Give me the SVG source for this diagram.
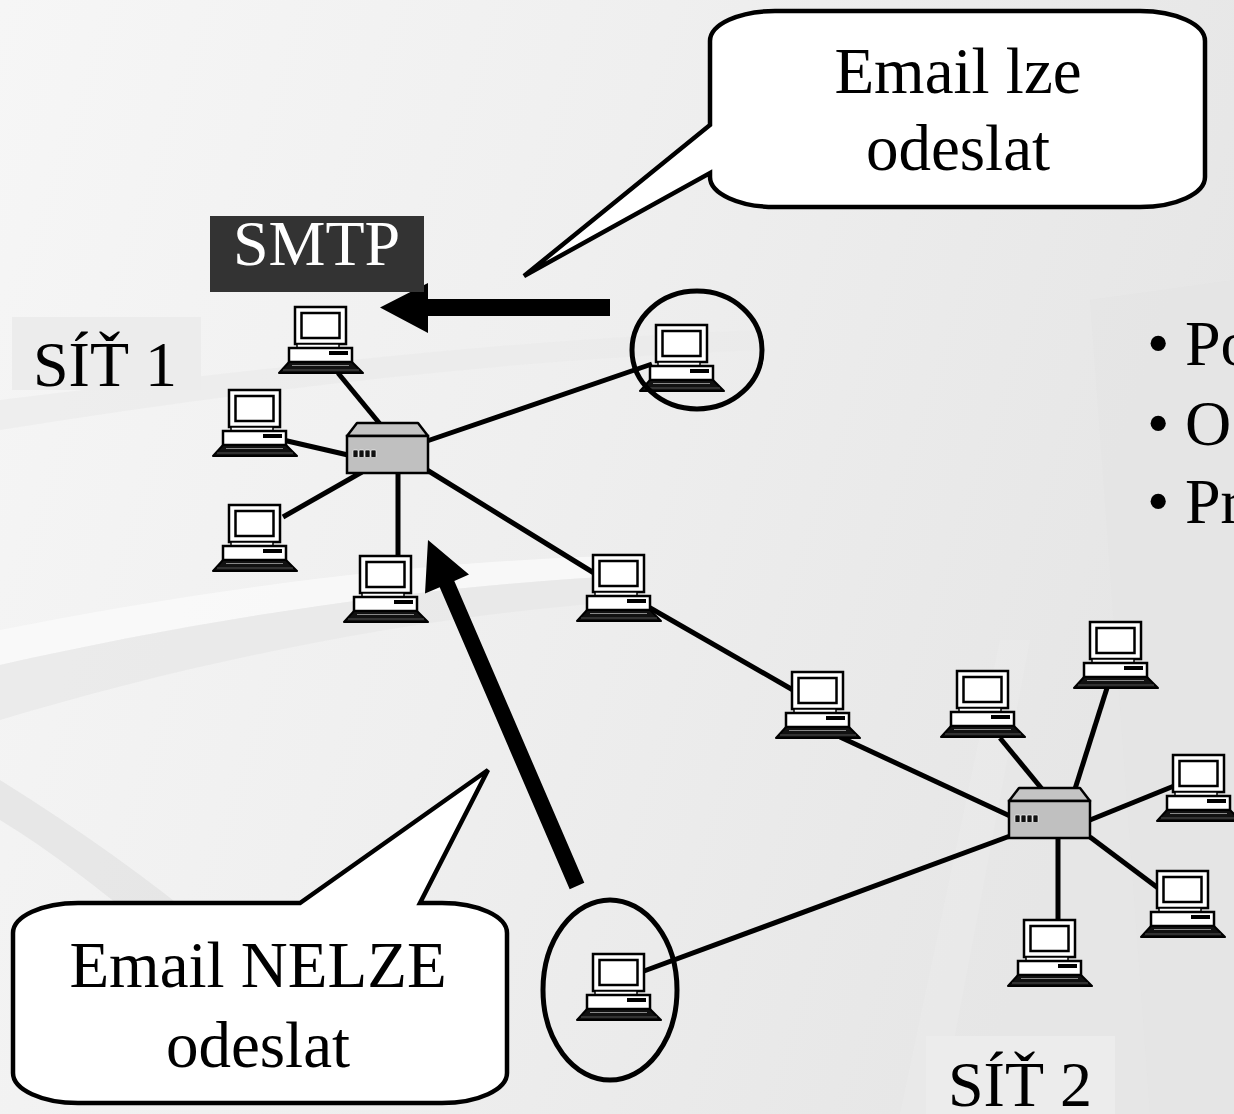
<svg xmlns="http://www.w3.org/2000/svg" xmlns:xlink="http://www.w3.org/1999/xlink" width="1234" height="1114" viewBox="0 0 1234 1114">
<defs>
<linearGradient id="bg" x1="0" y1="0" x2="1" y2="0.3">
<stop offset="0" stop-color="#f6f6f6"/>
<stop offset="0.5" stop-color="#efefef"/>
<stop offset="1" stop-color="#e6e6e6"/>
</linearGradient>
<symbol id="pc" overflow="visible">
<rect x="16" y="0" width="51" height="37" fill="#fff" stroke="#000" stroke-width="2.5"/>
<rect x="22.5" y="6" width="38" height="25" fill="#fff" stroke="#000" stroke-width="2.5"/>
<rect x="18" y="37" width="42" height="4" fill="#fff" stroke="#000" stroke-width="1.5"/>
<rect x="10" y="41" width="63" height="14" fill="#fff" stroke="#000" stroke-width="2.5"/>
<rect x="50" y="44" width="19" height="4" fill="#000"/>
<polygon points="10,55 73,55 84,66 0,66" fill="#111" stroke="#000" stroke-width="2" stroke-linejoin="round"/>
<line x1="13" y1="58.5" x2="70" y2="58.5" stroke="#888" stroke-width="1"/>
<line x1="4" y1="63" x2="80" y2="63" stroke="#666" stroke-width="0.8"/>
</symbol>
<symbol id="hub" overflow="visible">
<polygon points="10,0 71,0 81,13 0,13" fill="#c4c4c4" stroke="#000" stroke-width="2.5" stroke-linejoin="round"/>
<rect x="0" y="13" width="81" height="37" fill="#c0c0c0" stroke="#000" stroke-width="2.5"/>
<g fill="#111" stroke="#fff" stroke-width="0.6">
<rect x="6" y="27" width="5" height="7.5" rx="1"/>
<rect x="12" y="27" width="5" height="7.5" rx="1"/>
<rect x="18" y="27" width="5" height="7.5" rx="1"/>
<rect x="24" y="27" width="5" height="7.5" rx="1"/>
</g>
</symbol>
</defs>
<style>
.t{font-family:"Liberation Serif","Times New Roman",serif;font-size:65px;fill:#000}
.c{text-anchor:middle}
.w{fill:#fff}
.ln{stroke:#000;stroke-width:5;fill:none;stroke-linecap:butt}
.callout{fill:#fff;stroke:#000;stroke-width:4.5;stroke-linejoin:miter}
.ring{fill:none;stroke:#000;stroke-width:5}
</style>

<g id="background">
<rect width="1234" height="1114" fill="url(#bg)"/>
<path d="M0,400 C250,370 500,340 760,330 L760,350 C500,360 250,390 0,430 Z" fill="#e9e9e9" opacity="0.6"/>
<path d="M0,630 C200,590 420,560 640,555 L640,575 C420,585 200,620 0,665 Z" fill="#fafafa" opacity="0.8"/>
<path d="M0,665 C200,620 420,585 640,575 L640,600 C420,615 200,660 0,720 Z" fill="#e7e7e7" opacity="0.7"/>
<path d="M0,780 C80,830 150,880 210,930 L150,930 C100,890 50,850 0,820 Z" fill="#e4e4e4" opacity="0.8"/>
<path d="M900,1114 L1000,640 L1030,640 L940,1114 Z" fill="#ebebeb" opacity="0.6"/>
<path d="M1090,300 L1234,280 L1234,1114 L1150,1114 Z" fill="#e3e3e3" opacity="0.5"/>
</g>

<g id="label-box-1"><rect x="12" y="317" width="189" height="73" fill="#ececec"/></g>
<g id="label-box-2"><rect x="926" y="1036" width="189" height="78" fill="#ececec"/></g>

<g id="connectors">
<line class="ln" x1="338" y1="373" x2="380" y2="424"/>
<line class="ln" x1="283" y1="440" x2="348" y2="455"/>
<line class="ln" x1="283" y1="517" x2="362" y2="472"/>
<line class="ln" x1="398" y1="472" x2="398" y2="557"/>
<line class="ln" x1="427" y1="441" x2="652" y2="364"/>
<line class="ln" x1="427" y1="470" x2="594" y2="573"/>
<line class="ln" x1="645" y1="605" x2="793" y2="690"/>
<line class="ln" x1="840" y1="737" x2="1010" y2="816"/>
<line class="ln" x1="1000" y1="738" x2="1042" y2="789"/>
<line class="ln" x1="1107" y1="688" x2="1075" y2="789"/>
<line class="ln" x1="1090" y1="820" x2="1174" y2="786"/>
<line class="ln" x1="1090" y1="837" x2="1158" y2="888"/>
<line class="ln" x1="1058" y1="837" x2="1058" y2="921"/>
<line class="ln" x1="1010" y1="836" x2="644" y2="971"/>
</g>

<g id="hub1"><use xlink:href="#hub" href="#hub" x="347" y="423"/></g>
<g id="hub2"><use xlink:href="#hub" href="#hub" x="1009" y="788"/></g>

<g id="pc-s1-top"><use xlink:href="#pc" href="#pc" x="279" y="307"/></g>
<g id="pc-s1-left"><use xlink:href="#pc" href="#pc" x="213" y="390"/></g>
<g id="pc-s1-lowleft"><use xlink:href="#pc" href="#pc" x="213" y="505"/></g>
<g id="pc-s1-bottom"><use xlink:href="#pc" href="#pc" x="344" y="556"/></g>
<g id="pc-circled-top"><use xlink:href="#pc" href="#pc" x="640" y="325"/></g>
<g id="pc-mid1"><use xlink:href="#pc" href="#pc" x="577" y="555"/></g>
<g id="pc-mid2"><use xlink:href="#pc" href="#pc" x="776" y="672"/></g>
<g id="pc-s2-a"><use xlink:href="#pc" href="#pc" x="941" y="671"/></g>
<g id="pc-s2-b"><use xlink:href="#pc" href="#pc" x="1074" y="622"/></g>
<g id="pc-s2-c"><use xlink:href="#pc" href="#pc" x="1157" y="755"/></g>
<g id="pc-s2-d"><use xlink:href="#pc" href="#pc" x="1141" y="871"/></g>
<g id="pc-s2-e"><use xlink:href="#pc" href="#pc" x="1008" y="920"/></g>
<g id="pc-circled-bottom"><use xlink:href="#pc" href="#pc" x="577" y="954"/></g>

<g id="ring-top"><ellipse class="ring" cx="697" cy="350" rx="65" ry="59"/></g>
<g id="ring-bottom"><ellipse class="ring" cx="610" cy="990" rx="67" ry="90"/></g>

<g id="arrow-smtp"><polygon points="380,307.5 428,283 428,299 610,299 610,316 428,316 428,333" fill="#000"/></g>
<g id="arrow-up"><polygon points="428,540 469,574.6 454.3,580.9 584.3,882.8 569.7,889.2 439.7,587.3 425,593.6" fill="#000"/></g>

<g id="smtp">
<rect x="210" y="216" width="214" height="76" fill="#333"/>
<text class="t w" x="233" y="265" style="font-size:64px">SMTP</text>
</g>

<g id="label-sit1"><text class="t" x="33" y="386" style="font-size:64px">SÍŤ 1</text></g>
<g id="label-sit2"><text class="t" x="948" y="1106" style="font-size:64px">SÍŤ 2</text></g>

<g id="bullets">
<text class="t" y="365" style="font-size:64px"><tspan x="1147">•</tspan><tspan x="1185">Po</tspan></text>
<text class="t" y="445" style="font-size:64px"><tspan x="1147">•</tspan><tspan x="1185">O</tspan></text>
<text class="t" y="523" style="font-size:64px"><tspan x="1147">•</tspan><tspan x="1185">Pr</tspan></text>
</g>

<g id="callout-top">
<path class="callout" d="M775,11 L1140,11 A65,30 0 0 1 1205,41 L1205,177 A65,30 0 0 1 1140,207 L775,207 A65,30 0 0 1 710,177 L710,173 L524,276 L710,125 L710,41 A65,30 0 0 1 775,11 Z"/>
<text class="t c" x="958" y="93">Email lze</text>
<text class="t c" x="958" y="170">odeslat</text>
</g>

<g id="callout-bottom">
<path class="callout" d="M78,903 L300,903 L488,770 L420,903 L442,903 A65,30 0 0 1 507,933 L507,1073 A65,30 0 0 1 442,1103 L78,1103 A65,30 0 0 1 13,1073 L13,933 A65,30 0 0 1 78,903 Z"/>
<text class="t c" x="258" y="987">Email NELZE</text>
<text class="t c" x="258" y="1067">odeslat</text>
</g>
</svg>
